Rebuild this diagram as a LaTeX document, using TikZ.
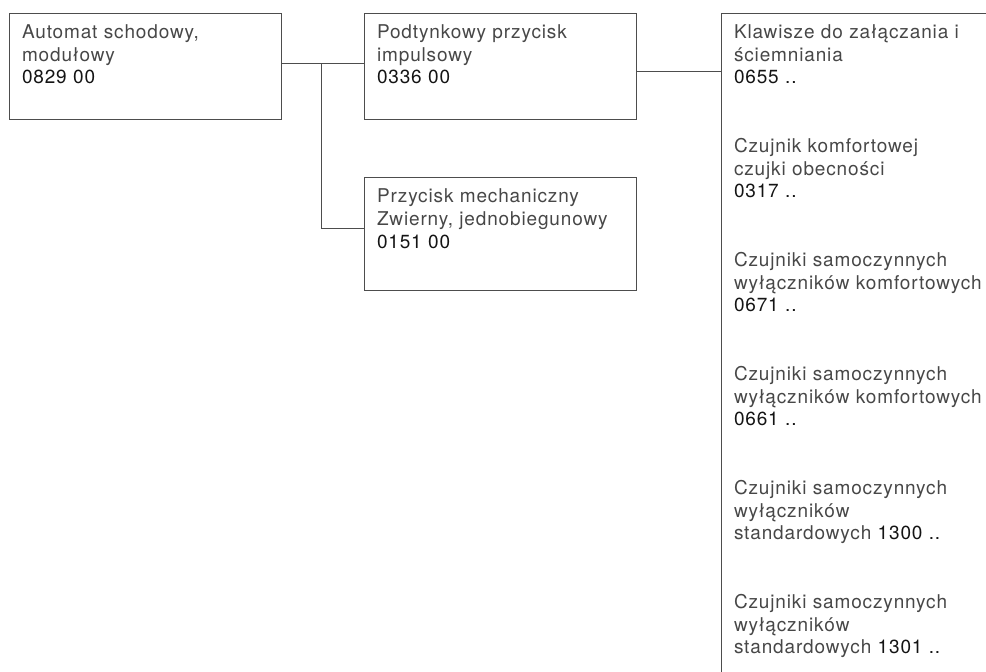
\documentclass[tikz,border=0pt]{standalone}
\usepackage{fontspec}
\setmainfont{TeX Gyre Heros}[LetterSpace=4.5]
\usepackage{tikz}
\usetikzlibrary{positioning,calc}
\definecolor{boxgray}{HTML}{4D4D4D}
\definecolor{namegray}{HTML}{474747}
\definecolor{codeblack}{HTML}{141414}
\newcommand{\code}[1]{{\color{codeblack}#1}}

\begin{document}
\begin{tikzpicture}[x=0.5pt,y=-0.5pt,
  unit/.style={draw=boxgray, line width=0.5pt, anchor=north west,
    inner xsep=6.25pt, inner ysep=0pt, text width=123.5pt, align=left,
    text height=12.5pt, text depth=#1, text=namegray,
    font=\fontsize{9.5}{11.4}\selectfont},
  wire/.style={draw=boxgray, line width=0.5pt}]
\useasboundingbox (0,0) rectangle (986,671);
\node[unit=40.5pt] (automat) at (9,12.7) {Automat schodowy,\\modułowy\\\code{0829 00}};
\node[unit=40.5pt] (podtynk) at (364,12.7) {Podtynkowy przycisk\\impulsowy\\\code{0336 00}};
\node[unit=44pt] (mech) at (364,177) {Przycisk mechaniczny\\Zwierny, jednobiegunowy\\\code{0151 00}};
\node[unit=400pt, text width=170pt] (sensors) at (721,12.7) {Klawisze do załączania i\\ściemniania\\\code{0655 ..}\\[22.8pt]
  Czujnik komfortowej\\czujki obecności\\\code{0317 ..}\\[22.8pt]
  Czujniki samoczynnych\\wyłączników komfortowych\\\code{0671 ..}\\[22.8pt]
  Czujniki samoczynnych\\wyłączników komfortowych\\\code{0661 ..}\\[22.8pt]
  Czujniki samoczynnych\\wyłączników\\standardowych \code{1300 ..}\\[22.8pt]
  Czujniki samoczynnych\\wyłączników\\standardowych \code{1301 ..}};
\coordinate (aout) at ([yshift=1.2pt]automat.east);
\coordinate (pout) at ([yshift=-2.5pt]podtynk.east);
\coordinate (min) at ([yshift=2.75pt]mech.west);
\coordinate (split) at ($(aout)!0.48!(aout -| podtynk.west)$);
\draw[wire] (aout) -- (aout -| podtynk.west);
\draw[wire] (split) |- (min);
\draw[wire] (pout) -- (pout -| sensors.west);
\end{tikzpicture}
\end{document}
